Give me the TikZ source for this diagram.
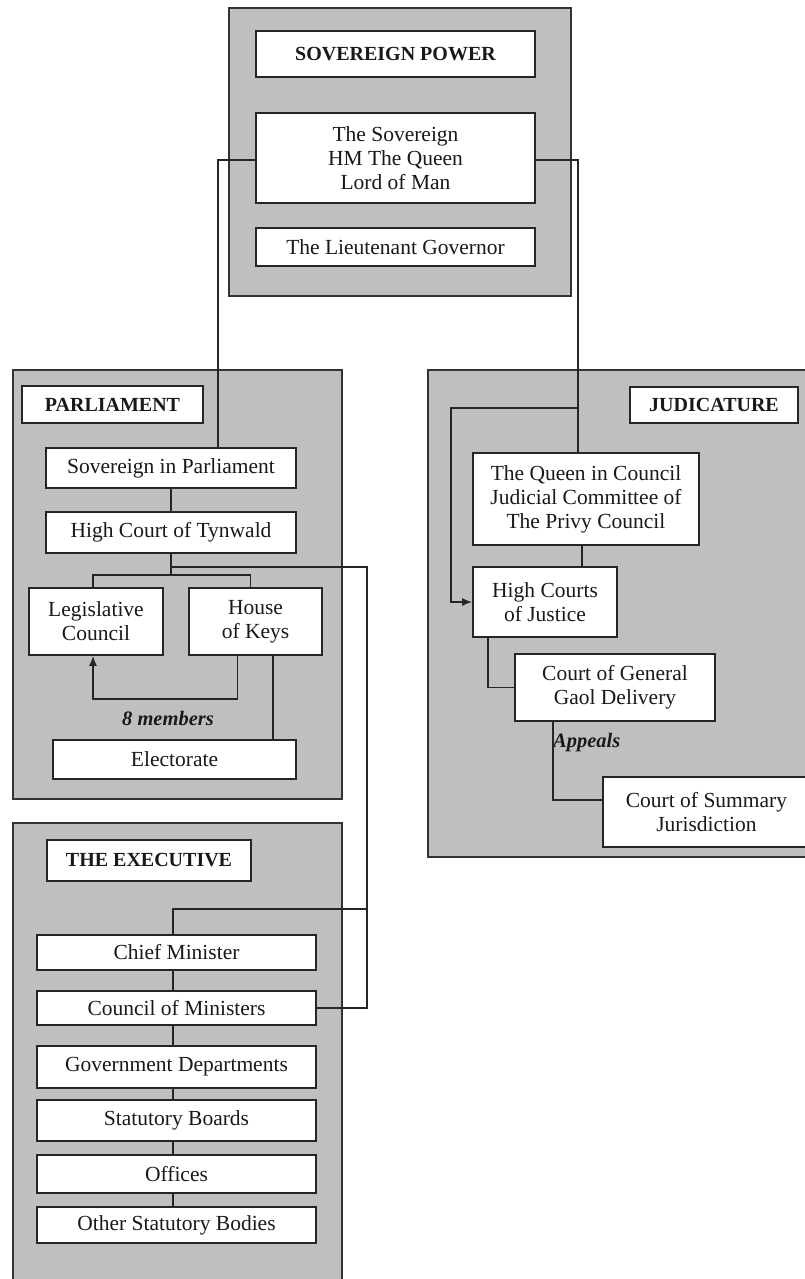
\documentclass[tikz,border=0pt]{standalone}
\usepackage{fontspec}
\setmainfont{Liberation Serif}
\usetikzlibrary{arrows.meta}
\tikzset{
  grp/.style={fill=gray!50, draw=black!80, line width=2pt},
  wbox/.style={draw=black!85, fill=white, line width=1.8pt, inner sep=0pt, align=center,
    text=black!90, font=\fontsize{21.5}{24}\selectfont},
  lbl/.style={wbox, font=\fontsize{20}{22}\selectfont\bfseries},
  conn/.style={draw=black!85, line width=1.5pt},
  arr/.style={conn, -{Latex[length=10pt,width=8pt]}},
  note/.style={text=black!90, font=\fontsize{20.5}{22}\selectfont\bfseries\itshape, inner sep=0pt}
}
\begin{document}
\begin{tikzpicture}[x=1pt,y=-1pt]
\useasboundingbox (0,0) rectangle (805,1279);
\clip (0,0) rectangle (805,1279);
\fill[white] (0,0) rectangle (805,1279);

% group panels
\path[grp] (229,8) rectangle (571,296);
\path[grp] (13,370) rectangle (342,799);
\path[grp] (428,370) rectangle (830,857);
\path[grp] (13,823) rectangle (342,1300);

% sovereign power
\node[lbl, minimum width=279pt, minimum height=46pt] (sp) at (395.5,54) {SOVEREIGN POWER};
\node[wbox, minimum width=279pt, minimum height=90pt] (sov) at (395.5,158) {The Sovereign\\HM The Queen\\Lord of Man};
\node[wbox, minimum width=279pt, minimum height=38pt] (lg) at (395.5,247) {The Lieutenant Governor};

% parliament
\node[lbl, minimum width=181pt, minimum height=37pt] (parl) at (112.5,404.5) {PARLIAMENT};
\node[wbox, minimum width=250pt, minimum height=40pt] (spar) at (171,468) {Sovereign in Parliament};
\node[wbox, minimum width=250pt, minimum height=41pt] (hct) at (171,532.5) {High Court of Tynwald};
\node[wbox, minimum width=134pt, minimum height=67pt] (lc) at (96,621.5) {Legislative\\Council};
\node[wbox, minimum width=133pt, minimum height=67pt] (hk) at (255.5,621.5) {House\\of Keys};
\node[wbox, minimum width=243pt, minimum height=39pt] (el) at (174.5,759.5) {Electorate};
\node[note] (mem) at (168,718) {8 members};

% judicature
\node[lbl, minimum width=168pt, minimum height=36pt] (jl) at (714,405) {JUDICATURE};
\node[wbox, minimum width=226pt, minimum height=92pt] (qic) at (586,499) {The Queen in Council\\Judicial Committee of\\The Privy Council};
\node[wbox, minimum width=144pt, minimum height=70pt] (hcj) at (545,602) {High Courts\\of Justice};
\node[wbox, minimum width=200pt, minimum height=67pt] (gg) at (615,687.5) {Court of General\\Gaol Delivery};
\node[wbox, minimum width=207pt, minimum height=70pt] (csj) at (706.5,812) {Court of Summary\\Jurisdiction};
\node[note, anchor=west] (app) at (553,743) {Appeals};

% executive
\node[lbl, minimum width=204pt, minimum height=41pt] (exl) at (149,860.5) {THE EXECUTIVE};
\node[wbox, minimum width=279pt, minimum height=35pt] (cm) at (176.5,952.5) {Chief Minister};
\node[wbox, minimum width=279pt, minimum height=34pt] (com) at (176.5,1008) {Council of Ministers};
\node[wbox, minimum width=279pt, minimum height=42pt] (gd) at (176.5,1067) {Government Departments};
\node[wbox, minimum width=279pt, minimum height=41pt] (sb) at (176.5,1120.5) {Statutory Boards};
\node[wbox, minimum width=279pt, minimum height=38pt] (off) at (176.5,1174) {Offices};
\node[wbox, minimum width=279pt, minimum height=36pt] (osb) at (176.5,1225) {Other Statutory Bodies};

% coordinates for routing
\coordinate (pl) at (218,160);
\coordinate (jr) at (578,160);
\coordinate (jb) at (578,408);
\coordinate (jbl) at (451,408);
\coordinate (br) at (171,575);
\coordinate (tj) at (171,567);
\coordinate (tr) at (367,567);
\coordinate (ex) at (367,909);
\coordinate (lp) at (168,699);

% sovereign connectors
\draw[conn] (sov.west |- pl) -- (pl) -- ([xshift=47pt]spar.north);
\draw[conn] (sov.east |- jr) -- (jr) -- ([xshift=-8pt]qic.north);

% parliament connectors
\draw[conn] (spar.south) -- (hct.north);
\draw[conn] (hct.south) -- (br);
\draw[conn] ([xshift=-3pt]lc.north) |- (br) -| ([xshift=-5pt]hk.north);
\draw[arr] ([xshift=-18pt]hk.south) |- (lp) -| ([xshift=-3pt]lc.south);
\draw[conn] ([xshift=17.5pt]hk.south) -- ([xshift=17.5pt]hk.south |- el.north);

% parliament to executive
\draw[conn] (tj) -- (tr) -- (tr |- com.east) -- (com.east);
\draw[conn] (ex) -| ([xshift=-3.5pt]cm.north);

% executive chain
\draw[conn] ([xshift=-3.5pt]cm.south) -- ([xshift=-3.5pt]com.north);
\draw[conn] ([xshift=-3.5pt]com.south) -- ([xshift=-3.5pt]gd.north);
\draw[conn] ([xshift=-3.5pt]gd.south) -- ([xshift=-3.5pt]sb.north);
\draw[conn] ([xshift=-3.5pt]sb.south) -- ([xshift=-3.5pt]off.north);
\draw[conn] ([xshift=-3.5pt]off.south) -- ([xshift=-3.5pt]osb.north);

% judicature connectors
\draw[arr] (jb) -- (jbl) |- (hcj.west);
\draw[conn] ([xshift=-4pt]qic.south) -- ([xshift=-4pt]qic.south |- hcj.north);
\draw[conn] ([xshift=-57pt]hcj.south) |- (gg.west);
\draw[conn] ([xshift=-62pt]gg.south) |- ([yshift=12pt]csj.west);
\end{tikzpicture}
\end{document}
